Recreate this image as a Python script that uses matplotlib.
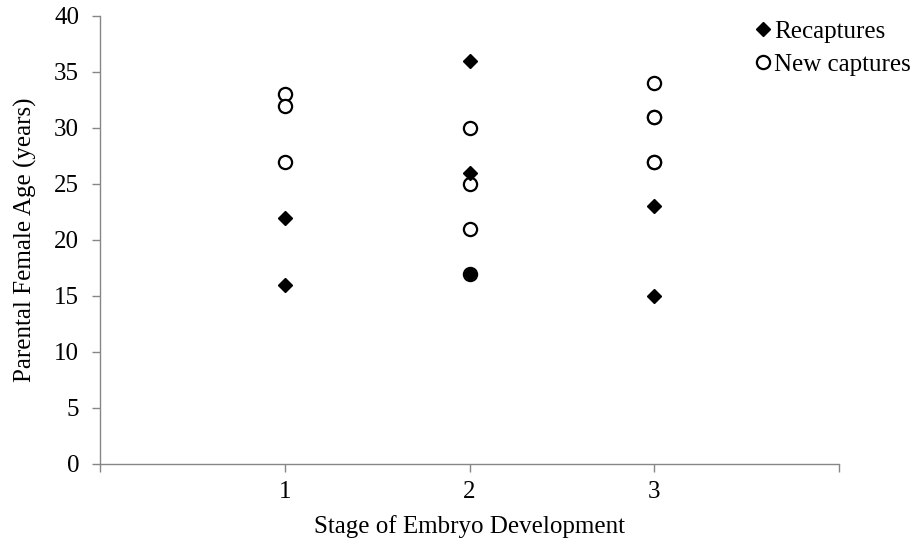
import matplotlib
matplotlib.use("Agg")
import matplotlib.pyplot as plt

plt.rcParams['font.family'] = ['Liberation Serif', 'DejaVu Serif']

# Data
recap_stage = [1, 1, 2, 2, 2, 2, 3, 3]
recap_age = [22, 16, 36, 26, 17, 17, 23, 15]
new_stage = [1, 1, 1, 2, 2, 2, 2, 3, 3, 3, 3, 3]
new_age = [33, 32, 27, 30, 25, 21, 17, 34, 31, 31, 27, 27]
x_ticks = [0, 1, 2, 3, 4]
x_ticklabels = ['', '1', '2', '3', '']
y_ticks = [0, 5, 10, 15, 20, 25, 30, 35, 40]

fig = plt.figure(figsize=(9.18, 5.52), dpi=100)
ax = fig.add_axes([100 / 918, 1 - 464 / 552, 739 / 918, 448 / 552])

ax.plot(new_stage, new_age, linestyle='none', marker='o', markersize=9.5,
        markerfacecolor='white', markeredgecolor='black', markeredgewidth=1.6,
        label='New captures', zorder=3)
ax.plot(recap_stage, recap_age, linestyle='none', marker='D', markersize=7.3,
        markerfacecolor='black', markeredgecolor='black', label='Recaptures', zorder=4)

ax.set_xlim(0, 4)
ax.set_ylim(0, 40)
ax.set_xticks(x_ticks)
ax.set_xticklabels(x_ticklabels)
ax.set_yticks(y_ticks)
for s in ['top', 'right']:
    ax.spines[s].set_visible(False)
for s in ['left', 'bottom']:
    ax.spines[s].set_color('#868686')
    ax.spines[s].set_linewidth(1.0)
ax.tick_params(axis='both', colors='#868686', labelcolor='black', labelsize=18,
               length=6, width=1.0, direction='out')
ax.tick_params(axis='y', pad=9)
ax.tick_params(axis='x', pad=6)
ax.set_xlabel('Stage of Embryo Development', fontsize=18, labelpad=9)
ax.set_ylabel('Parental Female Age (years)', fontsize=18, labelpad=12)

h, l = ax.get_legend_handles_labels()
leg = ax.legend([h[1], h[0]], [l[1], l[0]], loc='upper left',
                bbox_to_anchor=(0.875, 1.012), frameon=False, fontsize=18,
                handlelength=0.5, handletextpad=0.2, labelspacing=0.4,
                borderaxespad=0)

fig.savefig('out.png', dpi=100)
